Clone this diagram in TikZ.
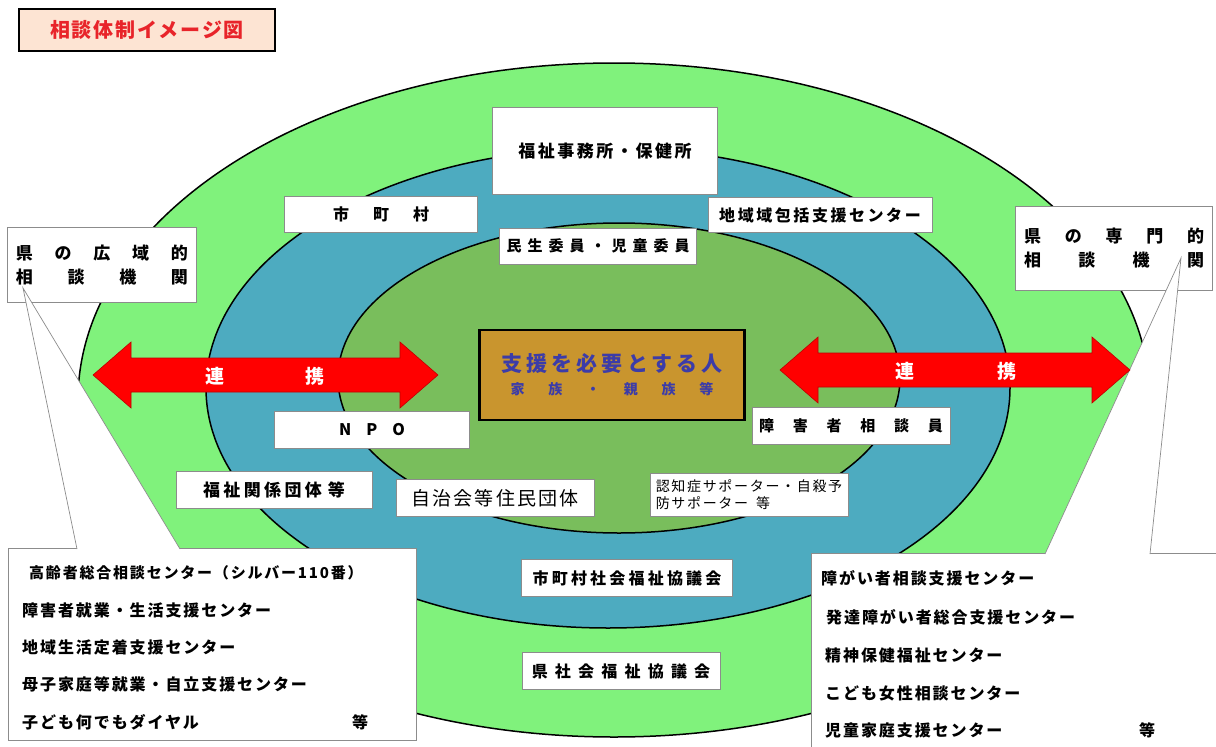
\documentclass[tikz,border=0pt]{standalone}
\usepackage{fontspec}
\setmainfont{Noto Sans CJK JP}
\usepackage{tikz}
\usetikzlibrary{positioning}
\definecolor{outergreen}{HTML}{80F27C}
\definecolor{ringteal}{HTML}{4DABC0}
\definecolor{innergreen}{HTML}{79BE5C}
\definecolor{corefill}{HTML}{C9952E}
\definecolor{coretext}{HTML}{3C3CA8}
\definecolor{titlefill}{HTML}{FDE4D3}
\definecolor{titletext}{HTML}{E8242A}
\definecolor{linkred}{HTML}{FF0000}
\definecolor{boxline}{HTML}{8C8C8C}
\newcommand\jfont[3]{\fontsize{#1}{#2}\selectfont\addfontfeature{LetterSpace=#3}}
\tikzset{
  ring/.style={draw=black,line width=1.5pt},
  orgbox/.style={draw=boxline,fill=white,line width=0.7pt,inner sep=0pt,align=center},
  listline/.style={anchor=west,inner sep=0pt,font=\jfont{16}{18}{12}\bfseries},
  linkarrow/.style={fill=linkred,draw=red!75!black,line width=0.6pt},
  linktext/.style={text=white,inner sep=0pt,font=\fontsize{19}{20}\selectfont\bfseries},
  calloutline/.style={draw=boxline,line width=0.7pt}
}

\begin{document}
\begin{tikzpicture}[x=1pt,y=-1pt]
\useasboundingbox (0,0) rectangle (1216,747);
% three rings
\draw[ring,fill=outergreen] (614,400) ellipse [x radius=536,y radius=337];
\draw[ring,fill=ringteal] (608,388) ellipse [x radius=402,y radius=240];
\draw[ring,fill=innergreen] (619,378) ellipse [x radius=281,y radius=155];
% title
\node[draw=black,line width=2.4pt,fill=titlefill,minimum width=256,minimum height=42,
  text=titletext,font=\jfont{20}{24}{9}\bfseries] (title) at (147,30) {相談体制イメージ図};
% prefecture bodies
\node[orgbox,minimum width=189,minimum height=75,font=\jfont{17}{24}{0}\bfseries] (kenwide) at (102,265)
  {\makebox[172pt]{県\hfill の\hfill 広\hfill 域\hfill 的}\\\makebox[172pt]{相\hfill 談\hfill 機\hfill 関}};
\node[orgbox,minimum width=197,minimum height=84,font=\jfont{17}{24}{0}\bfseries] (kenspec) at (1114,248)
  {\makebox[180pt]{県\hfill の\hfill 専\hfill 門\hfill 的}\\\makebox[180pt]{相\hfill 談\hfill 機\hfill 関}};
% lists at the bottom
\draw[orgbox] (8,548) rectangle (416,740);
\draw[orgbox] (811,553) rectangle (1230,760);
\coordinate (wtip) at (23,288);
\coordinate (wbaseL) at (77,549);
\coordinate (wbaseR) at (180,549);
\coordinate (stip) at (1181,258);
\coordinate (sbaseL) at (1045,554);
\coordinate (sbaseR) at (1150,554);
\fill[white] (wtip) -- (wbaseL) -- (wbaseR) -- cycle;
\draw[calloutline] (wbaseL) -- (wtip) -- (wbaseR);
\fill[white] (stip) -- (sbaseL) -- (sbaseR) -- cycle;
\draw[calloutline] (sbaseL) -- (stip) -- (sbaseR);
\node[listline,font=\jfont{15}{18}{12}\bfseries] (silver) at (29,573) {高齢者総合相談センター（シルバー110番）};
\node[listline] (jobs) at (22,610) {障害者就業・生活支援センター};
\node[listline] (settle) at (22,647) {地域生活定着支援センター};
\node[listline] (single) at (22,684) {母子家庭等就業・自立支援センター};
\node[listline] (dial) at (22,722) {\makebox[346pt][l]{子ども何でもダイヤル\hfill 等}};
\node[listline] (disab) at (821,578) {障がい者相談支援センター};
\node[listline] (develop) at (826,617) {発達障がい者総合支援センター};
\node[listline] (mental) at (825,655) {精神保健福祉センター};
\node[listline] (women) at (825,693) {こども女性相談センター};
\node[listline] (child) at (825,730) {\makebox[330pt][l]{児童家庭支援センター\hfill 等}};
% links
\foreach \xa/\xb/\yc in {93/438/375,780/1130/370}
  \draw[linkarrow] (\xa,\yc) -- (\xa+38,\yc-33) -- (\xa+38,\yc-17) -- (\xb-38,\yc-17)
    -- (\xb-38,\yc-33) -- (\xb,\yc) -- (\xb-38,\yc+33) -- (\xb-38,\yc+17)
    -- (\xa+38,\yc+17) -- (\xa+38,\yc+33) -- cycle;
\node[linktext] (linkL1) at (215,376) {連};
\node[linktext] (linkL2) at (315,376) {携};
\node[linktext] (linkR1) at (905,371) {連};
\node[linktext] (linkR2) at (1007,371) {携};
% local bodies
\node[orgbox,minimum width=225,minimum height=87,font=\jfont{17}{20}{15}\bfseries] (welfare) at (605,151) {福祉事務所・保健所};
\node[orgbox,minimum width=193,minimum height=36,font=\jfont{16}{20}{150}\bfseries] (city) at (381,214) {市町村};
\node[orgbox,minimum width=224,minimum height=35,font=\jfont{16}{20}{16}\bfseries] (area) at (820,215) {地域域包括支援センター};
\node[orgbox,minimum width=197,minimum height=36,font=\jfont{15}{20}{40}\bfseries] (minsei) at (598,246) {民生委員・児童委員};
\node[draw=black,line width=2.4pt,fill=corefill,minimum width=265,minimum height=90,align=center,
  text=coretext,font=\bfseries] (core) at (612,375)
  {{\jfont{21}{26}{20}支援を必要とする人}\\[8pt]{\jfont{14}{18}{170}家族・親族等}};
\node[orgbox,minimum width=195,minimum height=37,font=\fontsize{16}{20}\selectfont\bfseries] (npo) at (372,430) {N\hspace{15pt}P\hspace{15pt}O};
\node[orgbox,minimum width=198,minimum height=37,font=\jfont{15}{20}{125}\bfseries] (counselor) at (851,426) {障害者相談員};
\node[orgbox,minimum width=196,minimum height=37,font=\jfont{17}{20}{20}\bfseries] (groups) at (274,490) {福祉関係団体\hspace{6pt}等};
\node[orgbox,minimum width=198,minimum height=37,font=\jfont{19}{22}{12}] (residents) at (495,498) {自治会等住民団体};
\node[orgbox,minimum width=198,minimum height=43,align=left,font=\jfont{14}{17}{12}] (dementia) at (749,495)
  {認知症サポーター・自殺予\\防サポーター\hspace{8pt}等};
\node[orgbox,minimum width=211,minimum height=37,font=\jfont{16}{20}{20}\bfseries] (cityswc) at (627,578) {市町村社会福祉協議会};
\node[orgbox,minimum width=198,minimum height=37,font=\jfont{16}{20}{45}\bfseries] (prefswc) at (621,671) {県社会福祉協議会};
\end{tikzpicture}
\end{document}
